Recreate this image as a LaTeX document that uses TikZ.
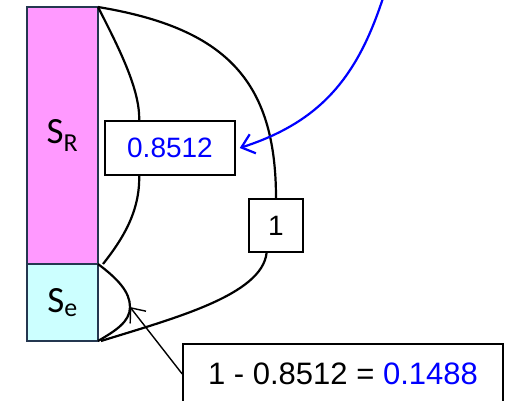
\documentclass[tikz,border=0pt]{standalone}
\usepackage{fontspec}
\setmainfont{Liberation Sans}
\newfontfamily\barfont{Carlito}
\usetikzlibrary{positioning,arrows.meta}
\definecolor{barline}{RGB}{36,55,80}
\definecolor{pinkfill}{RGB}{255,153,255}
\definecolor{cyanfill}{RGB}{204,255,255}
\definecolor{blue}{RGB}{0,0,255}

\begin{document}
\begin{tikzpicture}[x=1pt,y=-1pt,
    bar/.style={draw=barline, line width=2pt, minimum width=71pt, outer sep=0pt, font=\barfont\fontsize{37}{37}\selectfont},
    valbox/.style={draw, line width=1.5pt, fill=white, inner sep=0pt, font=\fontsize{28}{28}\selectfont},
    link/.style={line width=2.2pt},
    >={Straight Barb[length=12pt,width=20pt]}]
    \useasboundingbox (0,0) rectangle (530,400);

    %% Stacked bar
    \node[bar, fill=pinkfill, minimum height=257pt] (SR) at (62.5,135.5) {S\textsubscript{R}};
    \node[bar, fill=cyanfill, minimum height=77pt, below=0pt of SR] (Se) {S\textsubscript{e}};

    %% Value boxes
    \node[valbox, minimum width=130pt, minimum height=54pt, text=blue] (val) at (170,148) {0.8512};
    \node[valbox, minimum width=54pt, minimum height=53pt] (one) at (276,225.5) {1};
    \node[valbox, minimum width=320pt, minimum height=60pt, font=\fontsize{31}{31}\selectfont] (res) at (343,374)
        {1 - 0.8512 = \textcolor{blue}{0.1488}};

    %% Inner brace through 0.8512
    \draw[link] (SR.north east) .. controls (120,50) and (140,90) .. (val.138);
    \draw[link] (val.222) .. controls (140,212) and (122,240) .. ([xshift=5pt]SR.south east);

    %% Outer brace through 1
    \draw[link] (SR.north east) .. controls (225,28) and (276,80) .. (one.north);
    \draw[link] (one.251) .. controls (262,295) and (175,318) .. ([xshift=3pt]Se.south east);

    %% Small brace over S_e
    \coordinate (notch) at (130,307);
    \draw[link] (Se.north east) .. controls (118,279) and (130,292) .. (notch)
        .. controls (130,322) and (115,331) .. (Se.south east);

    %% Pointers
    \draw[->, line width=1.4pt] (res.west) -- (notch);
    \coordinate (src) at (383,-2);
    \draw[->, blue, line width=2.2pt] (src) .. controls (357,78) and (320,122) .. ([xshift=4pt]val.east);
\end{tikzpicture}
\end{document}
